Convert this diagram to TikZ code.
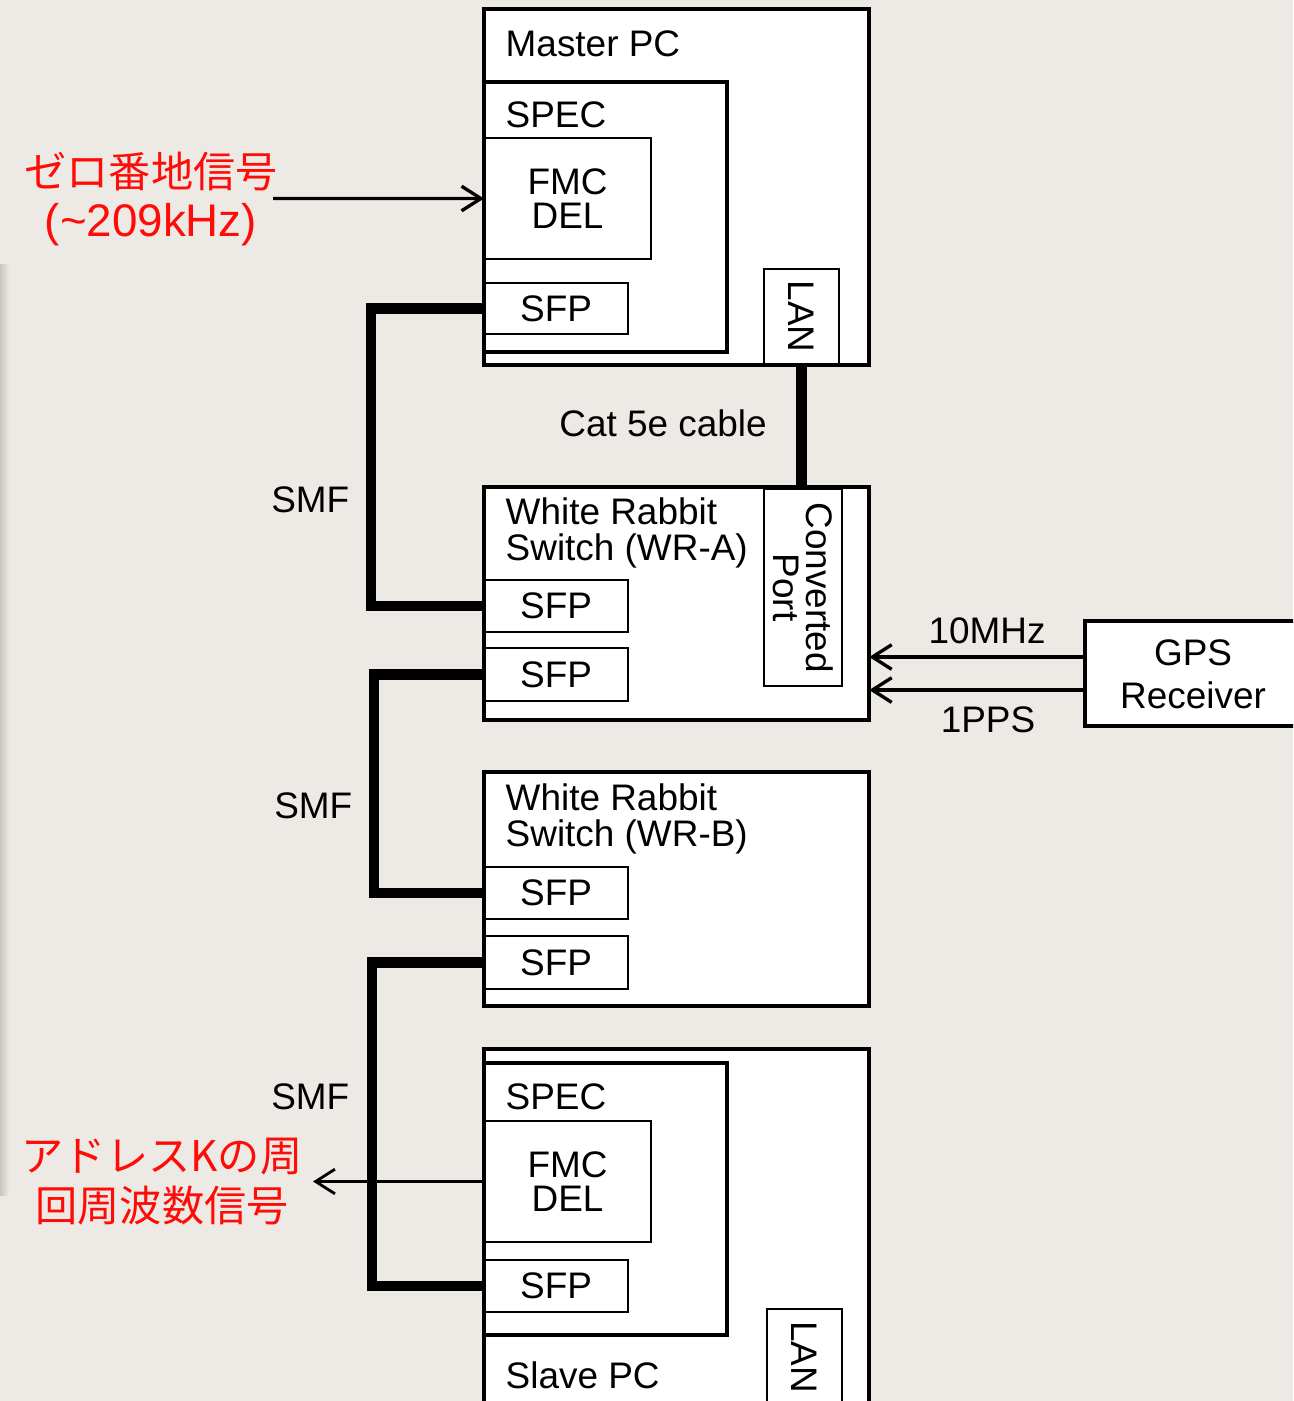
\documentclass[tikz,border=0pt]{standalone}
\usepackage{fontspec}
\setmainfont{Liberation Sans}
\newfontfamily\jpfont{Noto Sans CJK JP}
\usetikzlibrary{arrows.meta,positioning}

\definecolor{paper}{RGB}{237,234,229}
\definecolor{edgegray}{RGB}{200,198,193}
\definecolor{sigred}{RGB}{255,12,8}

\tikzset{
  unit/.style={draw, fill=white, line width=1.2pt, inner sep=0pt, outer sep=0pt, anchor=north west},
  frame/.style={line width=1.2pt},
  port/.style={draw, fill=white, line width=0.6pt, inner sep=0pt, outer sep=0pt, anchor=north west,
    font=\fontsize{10.5}{9.8}\selectfont, align=center},
  txt/.style={inner sep=0pt, font=\fontsize{10.5}{10}\selectfont},
  fibre/.style={line width=3pt, line join=miter},
  sig/.style={line width=0.95pt, -{Straight Barb[length=5.5pt,width=7pt]}},
  jplabel/.style={inner sep=0pt, text=sigred, align=center, font=\jpfont\fontsize{12}{14.2}\selectfont},
}

\begin{document}
\begin{tikzpicture}[x=0.01cm, y=-0.01cm]
	% paper
	\fill[paper] (0,0) rectangle (1293,1401);
	\useasboundingbox (0,0) rectangle (1293,1401);
	\clip (0,0) rectangle (1293,1401);
	\shade[left color=edgegray, right color=paper] (0,265) rectangle (9,1195);

	% Master PC:
	\node[unit, minimum width=3.85cm, minimum height=3.56cm] (master) at (484,9) {};
	\node[unit, minimum width=2.43cm, minimum height=2.70cm] (mspec) at (484,82) {};
	\node[port, minimum width=1.67cm, minimum height=1.21cm] (mfmc) at (484,138) {FMC\\DEL};
	\node[port, minimum width=1.44cm, minimum height=0.51cm] (msfp) at (484,283) {SFP};
	\node[port, minimum width=0.75cm, minimum height=0.95cm] (mlan) at (764,269) {};
	\draw[frame] (mspec.north west) rectangle (mspec.south east);
	\draw[frame] (master.north west) rectangle (master.south east);
	\node[txt, rotate=-90] (mlantxt) at (mlan.center) {LAN};
	\node[txt, anchor=west] (mastertxt) at (505,43.5) {Master PC};
	\node[txt, anchor=west] (mspectxt) at (505,114.5) {SPEC};

	% White Rabbit switch A:
	\node[unit, minimum width=3.85cm, minimum height=2.33cm] (wra) at (484,487) {};
	\node[port, minimum width=0.78cm, minimum height=1.97cm] (conv) at (764,489) {};
	\node[port, minimum width=1.44cm, minimum height=0.52cm] (asfpa) at (484,580) {SFP};
	\node[port, minimum width=1.44cm, minimum height=0.53cm] (asfpb) at (484,648) {SFP};
	\draw[frame] (wra.north west) rectangle (wra.south east);
	\node[txt, rotate=-90, align=center, font=\fontsize{10.5}{9.2}\selectfont] (convtxt) at (conv.center) {Converted\\Port};
	\node[txt, anchor=west, align=left] (wratxt) at (505,533) {White Rabbit\\Switch (WR-A)};

	% White Rabbit switch B:
	\node[unit, minimum width=3.85cm, minimum height=2.34cm] (wrb) at (484,772) {};
	\node[port, minimum width=1.44cm, minimum height=0.52cm] (bsfpa) at (484,867) {SFP};
	\node[port, minimum width=1.44cm, minimum height=0.53cm] (bsfpb) at (484,936) {SFP};
	\draw[frame] (wrb.north west) rectangle (wrb.south east);
	\node[txt, anchor=west, align=left] (wrbtxt) at (505,819) {White Rabbit\\Switch (WR-B)};

	% Slave PC:
	\node[unit, minimum width=3.85cm, minimum height=3.71cm] (slave) at (484,1049) {};
	\node[unit, minimum width=2.43cm, minimum height=2.72cm] (sspec) at (484,1063) {};
	\node[port, minimum width=1.67cm, minimum height=1.21cm] (sfmc) at (484,1121) {FMC\\DEL};
	\node[port, minimum width=1.44cm, minimum height=0.52cm] (ssfp) at (484,1260) {SFP};
	\node[port, minimum width=0.75cm, minimum height=0.96cm] (slan) at (767,1309) {};
	\draw[frame] (sspec.north west) rectangle (sspec.south east);
	\draw[frame] (slave.north west) rectangle (slave.south east);
	\node[txt, rotate=-90] (slantxt) at (slan.center) {LAN};
	\node[txt, anchor=west] (sspectxt) at (505,1097) {SPEC};
	\node[txt, anchor=west] (slavetxt) at (505,1375) {Slave PC};

	% GPS receiver:
	\node[unit, minimum width=2.30cm, minimum height=1.05cm] (gps) at (1085,621) {};
	\node[txt, align=center, font=\fontsize{10.5}{12.2}\selectfont] (gpstxt) at (1193,674.5) {GPS\\Receiver};

	% Cables:
	\draw[fibre] (msfp.west) -- ++(-113,0) |- (asfpa.west);
	\draw[fibre] (asfpb.west) -- ++(-110,0) |- (bsfpa.west);
	\draw[fibre] (bsfpb.west) -- ++(-112,0) |- (ssfp.west);
	\draw[fibre] (mlan.south) -- (mlan.south |- wra.north);
	\node[txt, anchor=east] (smfa) at (350,500) {SMF};
	\node[txt, anchor=east] (smfb) at (353,806) {SMF};
	\node[txt, anchor=east] (smfc) at (350,1097) {SMF};
	\node[txt] (cattxt) at (663,423) {Cat 5e cable};

	% Signals:
	\coordinate (tenin) at ([yshift=1.65mm]gps.west);
	\coordinate (ppsin) at ([yshift=-1.65mm]gps.west);
	\draw[sig] (tenin) -- (tenin -| wra.east);
	\draw[sig] (ppsin) -- (ppsin -| wra.east);
	\node[txt] (tentxt) at (987,631) {10MHz};
	\node[txt] (ppstxt) at (988,720) {1PPS};

	\node[jplabel] (zerolbl) at (151,199) {ゼロ番地信号\\{\rmfamily\fontsize{13}{14.2}\selectfont(\textasciitilde209kHz)}};
	\coordinate (zin) at (273,198.5);
	\draw[sig] (zin) -- (mfmc.west);
	\node[jplabel] (addrlbl) at (162,1182) {アドレスKの周\\回周波数信号};
	\coordinate (aout) at (313,1181.5);
	\draw[sig, line width=0.8pt] (sfmc.west) -- (aout);
\end{tikzpicture}
\end{document}
